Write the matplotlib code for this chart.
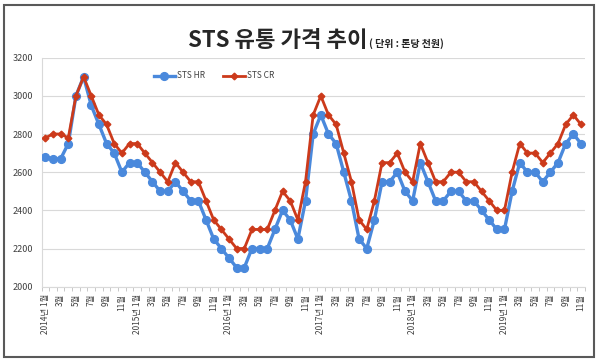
import numpy as np
import matplotlib
matplotlib.use("Agg")
import matplotlib.pyplot as plt
from matplotlib.patches import Rectangle

plt.rcParams['font.family'] = ['Noto Sans CJK KR', 'DejaVu Sans']

# data: monthly, 2014-01 .. 2019-11 (thousand won / ton)
years = [2014, 2015, 2016, 2017, 2018, 2019]
sts_hr = [2680, 2670, 2670, 2750, 3000, 3100, 2950, 2850, 2750, 2700, 2600, 2650,
          2650, 2600, 2550, 2500, 2500, 2550, 2500, 2450, 2450, 2350, 2250, 2200,
          2150, 2100, 2100, 2200, 2200, 2200, 2300, 2400, 2350, 2250, 2450, 2800,
          2900, 2800, 2750, 2600, 2450, 2250, 2200, 2350, 2550, 2550, 2600, 2500,
          2450, 2650, 2550, 2450, 2450, 2500, 2500, 2450, 2450, 2400, 2350, 2300,
          2300, 2500, 2650, 2600, 2600, 2550, 2600, 2650, 2750, 2800, 2750]
sts_cr = [2780, 2800, 2800, 2780, 3000, 3100, 3000, 2900, 2850, 2750, 2700, 2750,
          2750, 2700, 2650, 2600, 2550, 2650, 2600, 2550, 2550, 2450, 2350, 2300,
          2250, 2200, 2200, 2300, 2300, 2300, 2400, 2500, 2450, 2350, 2550, 2900,
          3000, 2900, 2850, 2700, 2550, 2350, 2300, 2450, 2650, 2650, 2700, 2600,
          2550, 2750, 2650, 2550, 2550, 2600, 2600, 2550, 2550, 2500, 2450, 2400,
          2400, 2600, 2750, 2700, 2700, 2650, 2700, 2750, 2850, 2900, 2850]

x = np.arange(len(sts_hr))
tick_pos = x[::2]
tick_labels = []
for i in tick_pos:
    m = i % 12 + 1
    if m == 1:
        tick_labels.append(f"{years[i // 12]}년 1월")
    else:
        tick_labels.append(f"{m}월")

BLUE = '#4A89DC'
RED = '#CC3A1B'
GRID = '#D9D9D9'

fig = plt.figure(figsize=(6, 3.64), dpi=100)
ax = fig.add_axes([0.0692, 0.2124, 0.9055, 0.6291])

ax.plot(x, sts_hr, color=BLUE, lw=2.4, marker='o', ms=5.6, label='STS HR', zorder=3)
ax.plot(x, sts_cr, color=RED, lw=2.0, marker='D', ms=3.4, label='STS CR', zorder=4)

ax.set_xlim(-0.5, len(x) - 0.5)
ax.set_ylim(2000, 3200)
ax.set_yticks(np.arange(2000, 3201, 200))
ax.grid(axis='y', color=GRID, lw=0.8)
ax.set_axisbelow(True)

ax.set_xticks(tick_pos)
ax.set_xticklabels(tick_labels, rotation=90, fontsize=6, color='#404040')
ax.set_xticks(np.arange(-0.5, len(x), 1), minor=True)
ax.tick_params(axis='x', which='major', length=0, pad=5)
ax.tick_params(axis='x', which='minor', length=3, color='#BFBFBF', width=0.6)
ax.tick_params(axis='y', length=0, labelsize=6.5, labelcolor='#404040', pad=6)

for s in ['top', 'right']:
    ax.spines[s].set_visible(False)
for s in ['left', 'bottom']:
    ax.spines[s].set_color(GRID)
    ax.spines[s].set_linewidth(0.8)

ax.legend(loc='center left', bbox_to_anchor=(146 / 600, 1 - 76 / 364),
          bbox_transform=fig.transFigure, ncol=2, frameon=False, fontsize=6,
          handlelength=2.6, columnspacing=2.2, handletextpad=0.2, numpoints=1,
          labelcolor='#404040')

fig.text(368 / 600, 1 - 47 / 364, 'STS 유통 가격 추이', ha='right', va='baseline',
         fontsize=16, fontweight='bold', color='#262626')
fig.text(369 / 600, 1 - 47 / 364, '( 단위 : 톤당 천원)', ha='left', va='baseline',
         fontsize=7.2, fontweight='bold', color='#262626')

fig.add_artist(Rectangle((4 / 600, 1 - 357 / 364), 590 / 600, 352 / 364,
                         transform=fig.transFigure, fill=False,
                         edgecolor='#595959', lw=1.5))

fig.savefig('out.png', dpi=100)
